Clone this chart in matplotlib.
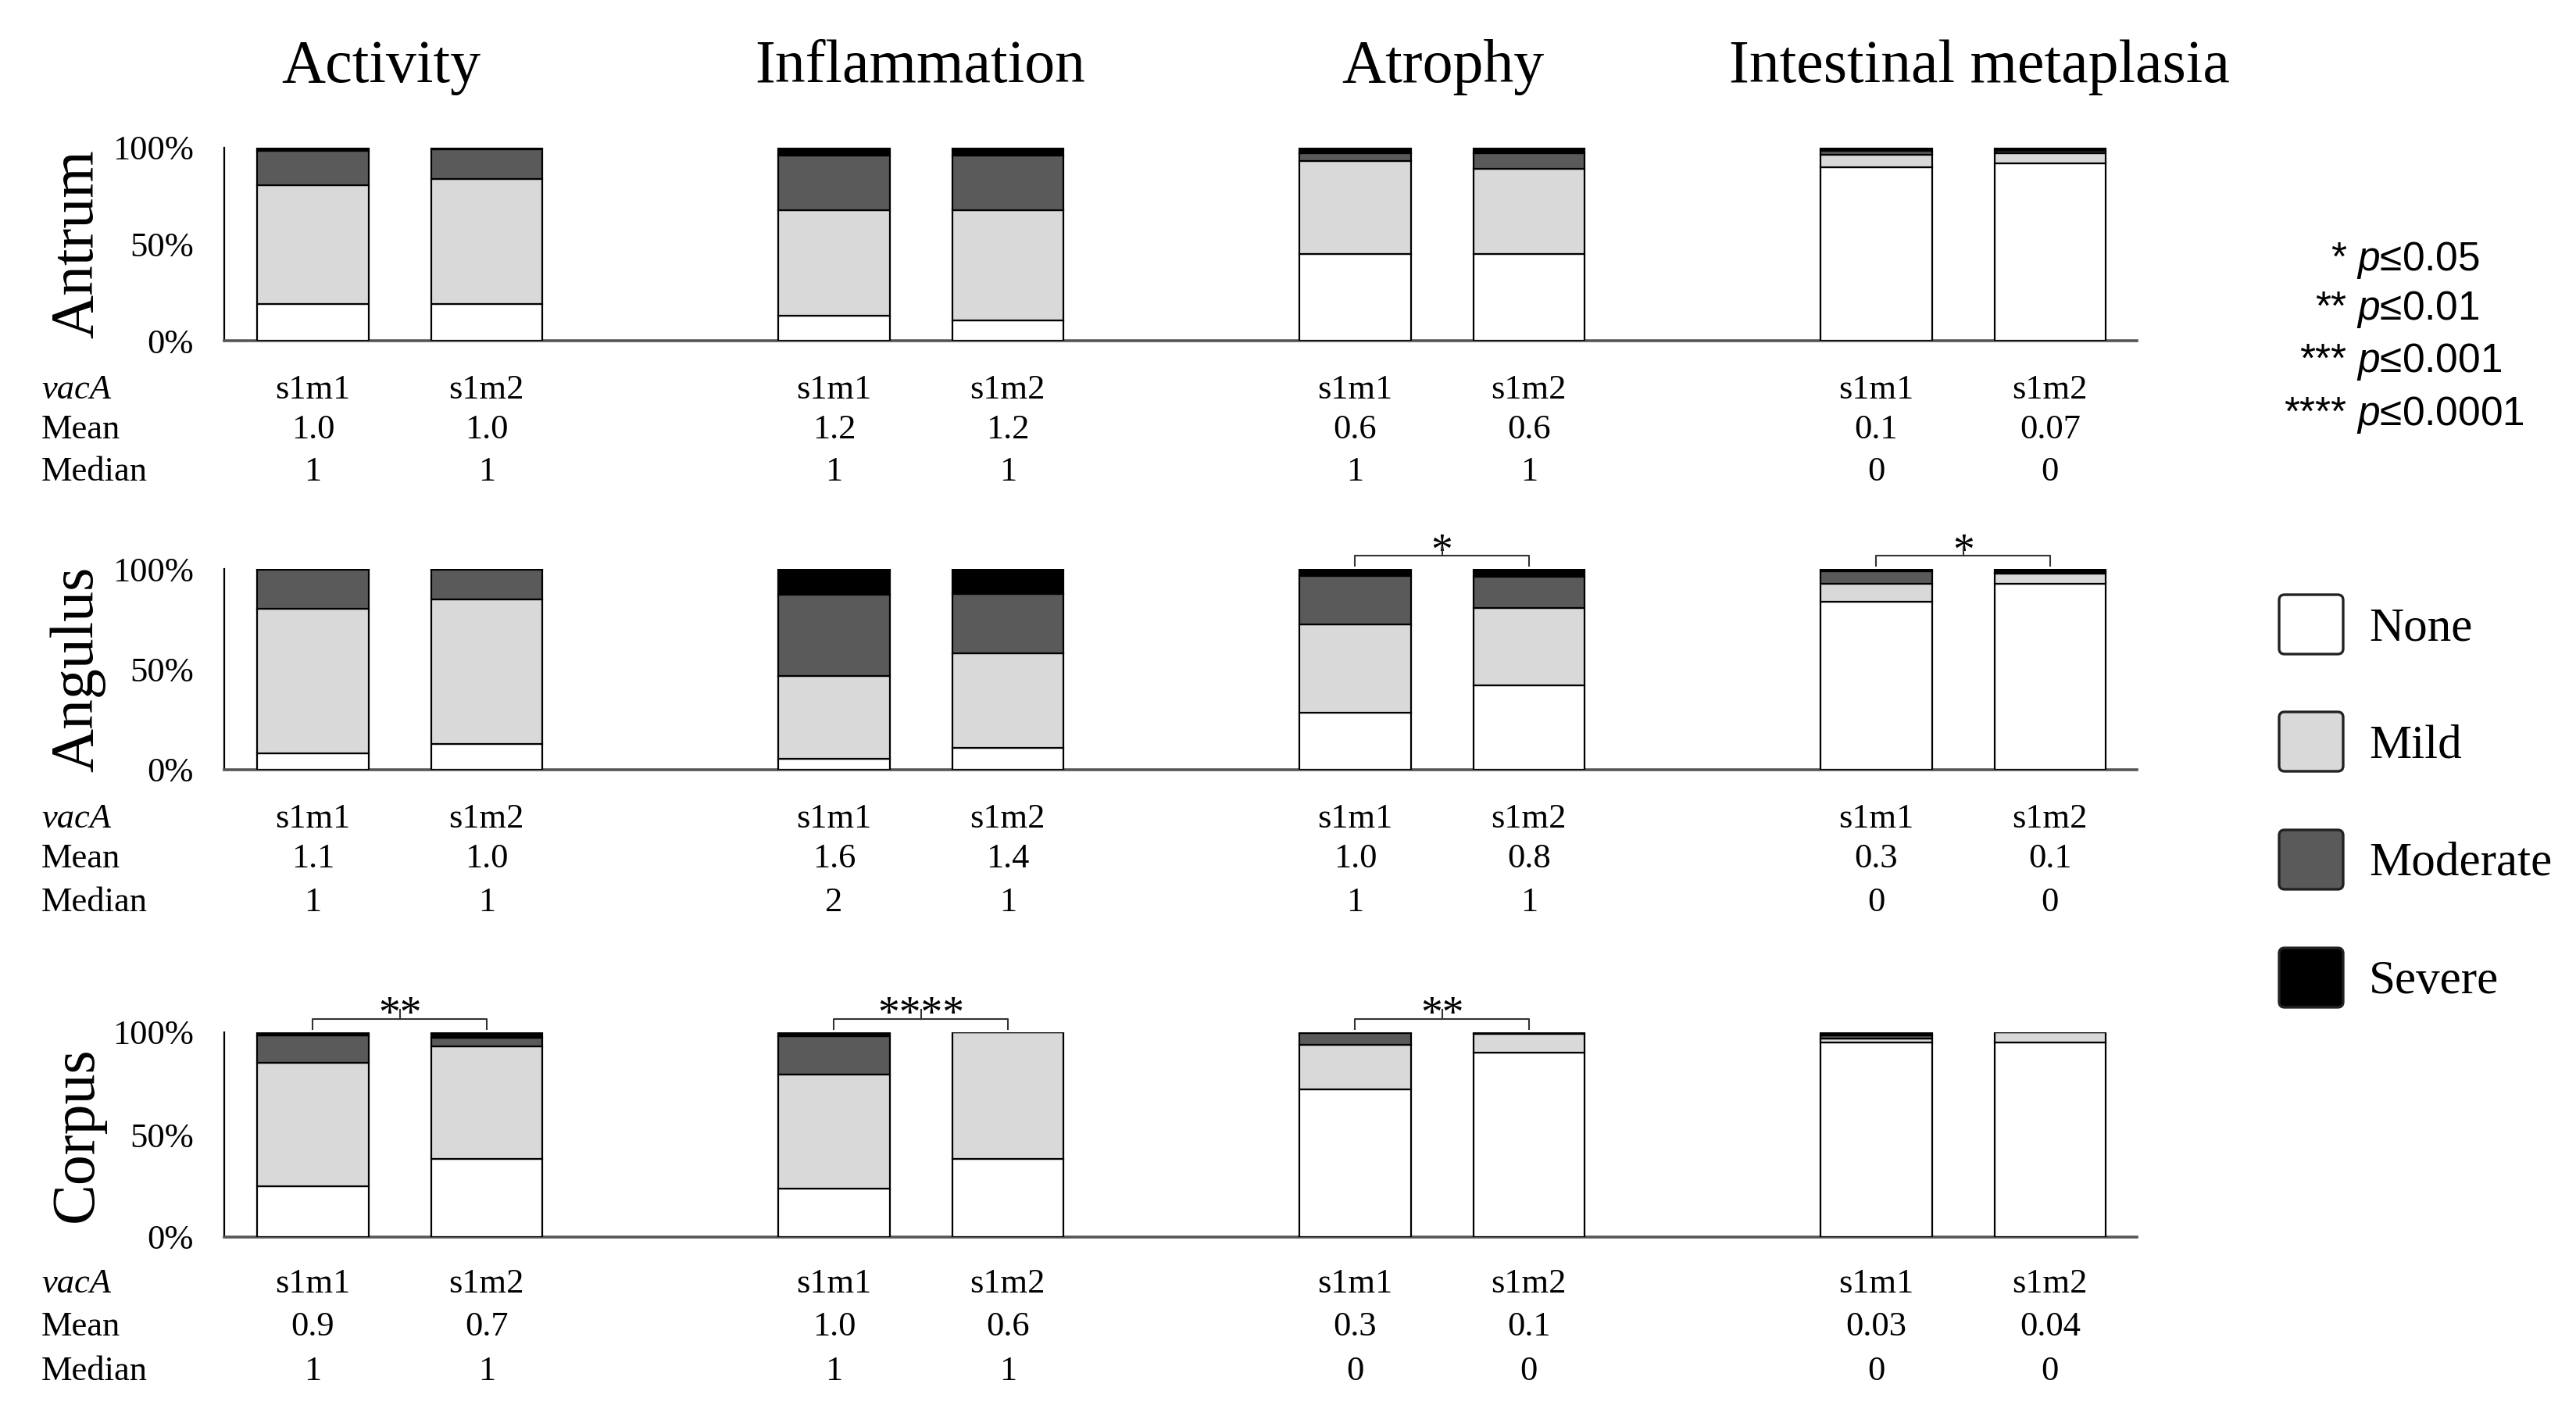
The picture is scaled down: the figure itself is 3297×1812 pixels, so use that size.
import numpy as np
import matplotlib
matplotlib.use("Agg")
import matplotlib.pyplot as plt
from matplotlib.patches import FancyBboxPatch
import matplotlib.transforms as mtransforms

# ---------------- data ----------------
sites = ["Antrum", "Angulus", "Corpus"]
categories = ["Activity", "Inflammation", "Atrophy", "Intestinal metaplasia"]
groups = ["s1m1", "s1m2"]
grades = ["None", "Mild", "Moderate", "Severe"]

# percentages, order: Act s1m1, Act s1m2, Inf s1m1, Inf s1m2, Atr s1m1, Atr s1m2, IM s1m1, IM s1m2
antrum_none     = [19, 19, 13, 10.5, 45, 45, 90, 92]
antrum_mild     = [61.5, 65, 54.5, 57, 48, 44, 6.5, 5]
antrum_moderate = [18, 15, 28.5, 28.5, 4, 8, 2, 1.5]
antrum_severe   = [1.5, 1, 4, 4, 3, 3, 1.5, 1.5]

angulus_none     = [8, 13, 5.5, 11, 28.5, 42, 83.5, 92.5]
angulus_mild     = [72, 72, 41, 47, 44, 38.5, 9, 5]
angulus_moderate = [19.5, 14.5, 40.5, 29.5, 24, 15.5, 6.5, 1]
angulus_severe   = [0.5, 0.5, 13, 12.5, 3.5, 4, 1, 1.5]

corpus_none     = [25, 38, 23.5, 38, 72, 90, 95, 95]
corpus_mild     = [60, 55, 56, 62, 22, 9.3, 2, 5]
corpus_moderate = [13.5, 4.5, 18.5, 0, 5.5, 0.7, 1.5, 0]
corpus_severe   = [1.5, 2.5, 2, 0, 0.5, 0, 1.5, 0]

antrum_mean    = ["1.0", "1.0", "1.2", "1.2", "0.6", "0.6", "0.1", "0.07"]
angulus_mean   = ["1.1", "1.0", "1.6", "1.4", "1.0", "0.8", "0.3", "0.1"]
corpus_mean    = ["0.9", "0.7", "1.0", "0.6", "0.3", "0.1", "0.03", "0.04"]
antrum_median  = ["1", "1", "1", "1", "1", "1", "0", "0"]
angulus_median = ["1", "1", "2", "1", "1", "1", "0", "0"]
corpus_median  = ["1", "1", "1", "1", "0", "0", "0", "0"]

# significance: (site index, category index, stars)
sig_site = [1, 1, 2, 2, 2]
sig_cat = [2, 3, 0, 1, 2]
sig_stars = ["*", "*", "**", "****", "**"]

p_stars = ["*", "**", "***", "****"]
p_texts = ["0.05", "0.01", "0.001", "0.0001"]

# ---------------- style ----------------
W, H = 3297, 1812
SERIF = ["Liberation Serif", "DejaVu Serif"]
SANS = ["Liberation Sans", "DejaVu Sans"]
plt.rcParams['font.family'] = SERIF
plt.rcParams['mathtext.fontset'] = 'custom'
plt.rcParams['mathtext.it'] = 'Liberation Sans:italic'
plt.rcParams['mathtext.rm'] = 'Liberation Sans'

grade_colors = ["#ffffff", "#d9d9d9", "#5a5a5a", "#000000"]

site_data = [
    [antrum_none, antrum_mild, antrum_moderate, antrum_severe],
    [angulus_none, angulus_mild, angulus_moderate, angulus_severe],
    [corpus_none, corpus_mild, corpus_moderate, corpus_severe],
]
site_mean = [antrum_mean, angulus_mean, corpus_mean]
site_median = [antrum_median, angulus_median, corpus_median]

fig = plt.figure(figsize=(W / 100, H / 100), dpi=100)
fig.patch.set_facecolor("white")

# overlay axes in pixel coordinates for free text / legend
ov = fig.add_axes([0, 0, 1, 1], zorder=-1)
ov.set_xlim(0, W)
ov.set_ylim(H, 0)
ov.axis("off")

ax_left, ax_right = 287, 2735
row_px = [(189, 436), (728, 985), (1321, 1583)]
text_rows = [(499, 550, 604), (1048, 1099, 1155), (1643, 1698, 1755)]

xpos = np.array([0, 1, 3, 4, 6, 7, 9, 10], dtype=float)
bar_w = 0.64

axes = []
for si, (top, bot) in enumerate(row_px):
    ax = fig.add_axes([ax_left / W, 1 - bot / H, (ax_right - ax_left) / W, (bot - top) / H])
    axes.append(ax)
    bottom = np.zeros(len(xpos))
    for gi, vals in enumerate(site_data[si]):
        v = np.array(vals, dtype=float)
        ax.bar(xpos, v, bottom=bottom, width=bar_w, color=grade_colors[gi],
               edgecolor="black", linewidth=1.6, zorder=3)
        bottom += v
    ax.set_xlim(-0.51, 10.5)
    ax.set_ylim(0, 100)
    ax.set_facecolor("none")
    for s in ["top", "right"]:
        ax.spines[s].set_visible(False)
    ax.spines["left"].set_linewidth(1.6)
    ax.spines["left"].set_color("black")
    ax.spines["bottom"].set_linewidth(2.6)
    ax.spines["bottom"].set_color("#555555")
    ax.set_xticks([])
    ax.set_yticks([0, 50, 100])
    ax.set_yticklabels(["0%", "50%", "100%"], fontsize=32, family=SERIF)
    ax.tick_params(axis="y", length=0, pad=28)

    # row label
    ov.text(99, (top + bot) / 2, sites[si], rotation=90, ha="center", va="center",
            fontsize=56, family=SERIF)

    # table below
    y_vac, y_mean, y_med = text_rows[si]
    ov.text(53, y_vac, "vacA", fontsize=32, style="italic", ha="left", va="center", family=SERIF)
    ov.text(53, y_mean, "Mean", fontsize=32, ha="left", va="center", family=SERIF)
    ov.text(53, y_med, "Median", fontsize=32, ha="left", va="center", family=SERIF)
    bt = mtransforms.blended_transform_factory(ax.transData, ov.transData)
    for k, x in enumerate(xpos):
        ax.text(x, y_vac, groups[k % 2], transform=bt, ha="center", va="center",
                fontsize=32, family=SERIF, clip_on=False)
        ax.text(x, y_mean, site_mean[si][k], transform=bt, ha="center", va="center",
                fontsize=32, family=SERIF, clip_on=False)
        ax.text(x, y_med, site_median[si][k], transform=bt, ha="center", va="center",
                fontsize=32, family=SERIF, clip_on=False)

# significance brackets
for si, ci, st in zip(sig_site, sig_cat, sig_stars):
    ax = axes[si]
    x1, x2 = xpos[2 * ci], xpos[2 * ci + 1]
    xm = (x1 + x2) / 2
    ax.plot([x1, x1, x2, x2], [101.5, 106.5, 106.5, 101.5], color="#333333",
            lw=1.5, clip_on=False, zorder=4)
    ax.plot([xm, xm], [106.5, 111], color="#333333", lw=1.5, clip_on=False, zorder=4)
    ax.text(xm, 102.5, st, ha="center", va="baseline", fontsize=40, family=SERIF,
            clip_on=False)

# column titles
title_x = [488, 1178, 1847, 2533]
for cx, t in zip(title_x, categories):
    ov.text(cx, 105, t, ha="center", va="baseline", fontsize=56, family=SERIF)

# p-value key
p_base = [346, 409, 476, 544]
for st, pt, yb in zip(p_stars, p_texts, p_base):
    ov.text(3003, yb, st, ha="right", va="baseline", fontsize=37, family=SANS)
    ov.text(3016, yb, r"$p$" + "\u2264" + pt, ha="left", va="baseline", fontsize=37,
            family=SANS)

# grade legend
box_tops = [761, 911, 1062, 1213]
for gi, (bt_, g) in enumerate(zip(box_tops, grades)):
    patch = FancyBboxPatch((2917, bt_), 82, 76,
                           boxstyle="round,pad=0,rounding_size=7",
                           facecolor=grade_colors[gi], edgecolor="#222222", linewidth=2.4)
    ov.add_patch(patch)
    ov.text(3032, bt_ + 38 + 20, g, ha="left", va="baseline", fontsize=44, family=SERIF)

fig.savefig("out.png", dpi=100, facecolor="white")
